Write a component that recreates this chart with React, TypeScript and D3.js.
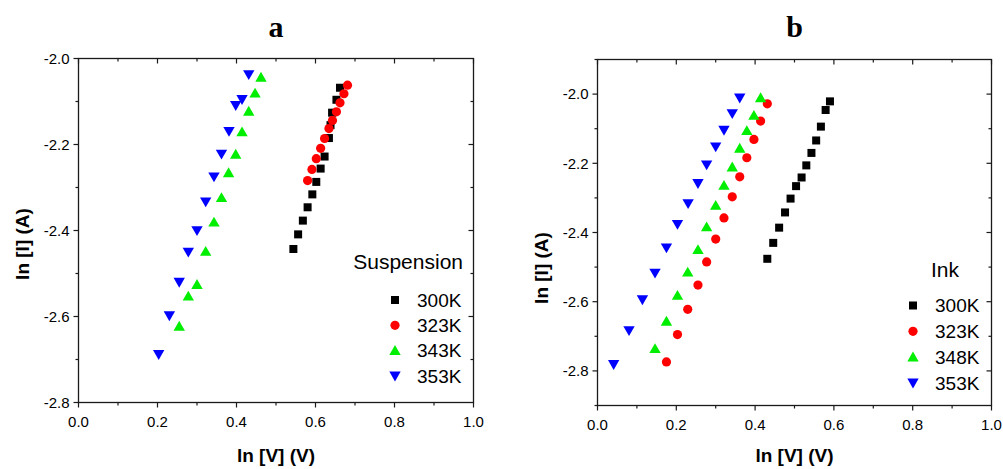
import React from 'react';
import * as d3 from 'd3';

// ---- data ----
const seriesNames = ['300K', '323K', '343K', '353K'];
const seriesNamesB = ['300K', '323K', '348K', '353K'];
const xTicks = [0, 0.1, 0.2, 0.3, 0.4, 0.5, 0.6, 0.7, 0.8, 0.9, 1.0];
const yTicksA = [-2.8, -2.7, -2.6, -2.5, -2.4, -2.3, -2.2, -2.1, -2.0];
const yTicksB = [-2.9, -2.8, -2.7, -2.6, -2.5, -2.4, -2.3, -2.2, -2.1, -2.0, -1.9];

// panel a (Suspension)
const a300x = [0.544, 0.556, 0.568, 0.580, 0.592, 0.602, 0.613, 0.623, 0.634, 0.638, 0.642, 0.653, 0.662];
const a300y = [-2.443, -2.409, -2.377, -2.346, -2.316, -2.287, -2.256, -2.228, -2.185, -2.155, -2.126, -2.096, -2.068];
const a323x = [0.580, 0.591, 0.602, 0.613, 0.623, 0.634, 0.643, 0.653, 0.662, 0.672, 0.681];
const a323y = [-2.284, -2.258, -2.233, -2.209, -2.186, -2.163, -2.144, -2.124, -2.103, -2.082, -2.062];
const a343x = [0.255, 0.278, 0.300, 0.322, 0.343, 0.362, 0.380, 0.398, 0.414, 0.431, 0.447, 0.462];
const a343y = [-2.623, -2.553, -2.526, -2.449, -2.381, -2.324, -2.266, -2.223, -2.171, -2.123, -2.081, -2.044];
const a353x = [0.203, 0.230, 0.255, 0.278, 0.300, 0.322, 0.343, 0.362, 0.381, 0.398, 0.414, 0.431];
const a353y = [-2.688, -2.598, -2.520, -2.450, -2.400, -2.333, -2.275, -2.222, -2.169, -2.109, -2.095, -2.037];

// panel b (Ink)
const b300x = [0.431, 0.446, 0.461, 0.476, 0.490, 0.504, 0.518, 0.530, 0.543, 0.555, 0.567, 0.579, 0.590];
const b300y = [-2.476, -2.430, -2.386, -2.342, -2.302, -2.266, -2.241, -2.206, -2.170, -2.134, -2.094, -2.046, -2.021];
const b323x = [0.175, 0.203, 0.229, 0.255, 0.277, 0.300, 0.321, 0.342, 0.361, 0.379, 0.397, 0.414, 0.431];
const b323y = [-2.774, -2.695, -2.622, -2.552, -2.485, -2.419, -2.358, -2.297, -2.239, -2.184, -2.131, -2.078, -2.028];
const b348x = [0.146, 0.175, 0.203, 0.229, 0.255, 0.277, 0.300, 0.321, 0.342, 0.361, 0.379, 0.397, 0.414];
const b348y = [-2.736, -2.657, -2.582, -2.515, -2.450, -2.384, -2.322, -2.264, -2.211, -2.157, -2.106, -2.062, -2.011];
const b353x = [0.041, 0.080, 0.114, 0.146, 0.175, 0.203, 0.230, 0.255, 0.277, 0.300, 0.321, 0.342, 0.361];
const b353y = [-2.781, -2.683, -2.594, -2.517, -2.444, -2.376, -2.316, -2.258, -2.204, -2.152, -2.104, -2.056, -2.011];

const colors = ['#000000', '#ff0000', '#00ee00', '#0000ff'];
const shapes = ['square', 'circle', 'up', 'down'];

const FONT = 'Arial, "Liberation Sans", sans-serif';
const fmt = (v) => d3.format('.1f')(v).replace('\u2212', '-');

const Marker = ({ shape, x, y, color }) => {
  if (shape === 'square') return <rect x={x - 4} y={y - 4} width={8} height={8} fill={color} />;
  if (shape === 'circle') return <circle cx={x} cy={y} r={4.6} fill={color} />;
  const path = d3.symbol().type(d3.symbolTriangle).size(56)();
  return (
    <path d={path} fill={color}
      transform={`translate(${x},${y + (shape === 'up' ? 1 : -1)}) rotate(${shape === 'down' ? 180 : 0})`} />
  );
};

const Panel = ({ box, yDomain, yTicks, series, names, title, legendTitle, legend, yLabelY }) => {
  const x = d3.scaleLinear().domain([0, 1]).range([box.x0, box.x1]);
  const y = d3.scaleLinear().domain(yDomain).range([box.y1, box.y0]);
  const isMajorX = (v) => Math.round(v * 10) % 2 === 0;
  const isMajorY = (v) => Math.round(Math.abs(v) * 10) % 2 === 0;
  const ax = '#1a1a1a';

  return (
    <g>
      <text x={(box.x0 + box.x1) / 2} y={37} textAnchor="middle"
        fontFamily='"Times New Roman", "Liberation Serif", serif' fontWeight="bold" fontSize={30}>{title}</text>

      {series.map((s, si) =>
        s.xs.map((xv, i) => (
          <Marker key={`${si}-${i}`} shape={shapes[si]} x={x(xv)} y={y(s.ys[i])} color={colors[si]} />
        ))
      )}

      <rect x={box.x0} y={box.y0} width={box.x1 - box.x0} height={box.y1 - box.y0}
        fill="none" stroke={ax} strokeWidth={1.3} />

      {xTicks.map((t) => {
        const len = isMajorX(t) ? 5 : 3;
        const px = x(t);
        return (
          <g key={`xt${t}`}>
            <line x1={px} x2={px} y1={box.y1} y2={box.y1 + len} stroke={ax} strokeWidth={1.2} />
            <line x1={px} x2={px} y1={box.y0} y2={box.y0 + len} stroke={ax} strokeWidth={1.2} />
            {isMajorX(t) && (
              <text x={px} y={box.y1 + 24} textAnchor="middle" fontFamily={FONT} fontSize={15}>
                {fmt(t)}
              </text>
            )}
          </g>
        );
      })}

      {yTicks.map((t) => {
        const len = isMajorY(t) ? 5 : 3;
        const py = y(t);
        const edge = t === yDomain[0] || t === yDomain[1];
        return (
          <g key={`yt${t}`}>
            <line x1={box.x0 - len} x2={box.x0} y1={py} y2={py} stroke={ax} strokeWidth={1.2} />
            {!edge && <line x1={box.x1 - len} x2={box.x1} y1={py} y2={py} stroke={ax} strokeWidth={1.2} />}
            {isMajorY(t) && (
              <text x={box.x0 - 9} y={py} dy="0.35em" textAnchor="end" fontFamily={FONT} fontSize={15}>
                {fmt(t)}
              </text>
            )}
          </g>
        );
      })}

      <text x={(box.x0 + box.x1) / 2} y={462} textAnchor="middle" fontFamily={FONT}
        fontWeight="bold" fontSize={19}>ln [V] (V)</text>
      <text transform={`translate(${box.x0 - 50},${yLabelY}) rotate(-90)`} textAnchor="middle"
        fontFamily={FONT} fontWeight="bold" fontSize={19}>ln [I] (A)</text>

      <text x={legend.titleX} y={legend.titleY} textAnchor={legend.titleAnchor} fontFamily={FONT} fontSize={21}>
        {legendTitle}
      </text>
      {names.map((n, i) => (
        <g key={n}>
          <Marker shape={shapes[i]} x={legend.mx} y={legend.y0 + i * legend.dy} color={colors[i]} />
          <text x={legend.tx} y={legend.y0 + i * legend.dy} dy="0.36em" fontFamily={FONT} fontSize={19}>{n}</text>
        </g>
      ))}
    </g>
  );
};

export default function App() {
  const seriesA = [
    { xs: a300x, ys: a300y },
    { xs: a323x, ys: a323y },
    { xs: a343x, ys: a343y },
    { xs: a353x, ys: a353y },
  ];
  const seriesB = [
    { xs: b300x, ys: b300y },
    { xs: b323x, ys: b323y },
    { xs: b348x, ys: b348y },
    { xs: b353x, ys: b353y },
  ];
  return (
    <svg width={1003} height={469} style={{ position: 'absolute', left: 0, top: 0, background: '#fff' }}>
      <Panel
        box={{ x0: 78.5, x1: 473.5, y0: 58.5, y1: 402.5 }}
        yDomain={[-2.8, -2.0]}
        yTicks={yTicksA}
        series={seriesA}
        names={seriesNames}
        title="a"
        legendTitle="Suspension"
        legend={{ titleX: 463, titleY: 269, titleAnchor: 'end', mx: 395, tx: 417, y0: 300, dy: 25.3 }}
        yLabelY={244}
      />
      <Panel
        box={{ x0: 597.5, x1: 991.5, y0: 59.5, y1: 405.5 }}
        yDomain={[-2.9, -1.9]}
        yTicks={yTicksB}
        series={seriesB}
        names={seriesNamesB}
        title="b"
        legendTitle="Ink"
        legend={{ titleX: 931, titleY: 277, titleAnchor: 'start', mx: 913, tx: 935, y0: 305.5, dy: 25.8 }}
        yLabelY={268}
      />
    </svg>
  );
}
